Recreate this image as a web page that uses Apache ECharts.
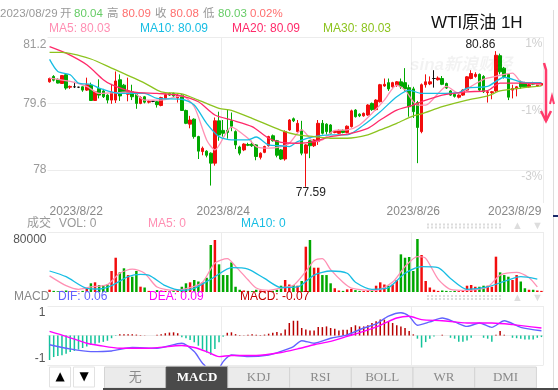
<!DOCTYPE html>
<html><head><meta charset="utf-8">
<script src="https://cdn.jsdelivr.net/npm/echarts@6.0.0/dist/echarts.min.js"></script>
<style>html,body{margin:0;padding:0;background:#fff;overflow:hidden}#chart{width:558px;height:390px}</style>
</head><body><div id="chart"></div>
<script>
// ---------- DATA ----------
const opens = [80.12,80.25,80.18,80.08,80.29,79.99,80.00,79.99,80.00,79.92,
80.04,79.67,79.96,79.90,79.80,79.68,79.68,80.17,80.04,79.82,
79.88,79.82,79.60,79.76,79.63,79.65,79.64,79.55,79.72,79.84,
79.84,79.73,79.80,79.43,79.10,79.22,78.80,78.44,78.45,78.40,
78.16,79.18,78.95,78.95,79.18,78.92,78.55,78.48,78.61,78.62,
78.60,78.30,78.42,78.58,78.82,78.70,78.48,78.26,78.96,79.23,
78.92,78.96,78.40,78.70,78.58,78.68,79.12,79.10,79.08,78.90,
78.88,78.95,78.90,79.04,79.44,79.34,79.30,79.32,79.60,79.45,
79.64,80.02,80.10,80.00,80.03,80.12,80.10,79.98,79.95,79.62,
78.92,80.05,80.07,80.20,80.17,80.20,80.08,79.90,79.82,79.75,
79.80,79.92,80.20,80.25,80.30,80.25,79.86,79.86,79.90,80.75,
80.45,80.30,79.92,79.95,80.10,80.10,80.00,80.10,80.02,80.04];
const closes = [80.20,80.16,80.09,80.27,79.97,80.01,80.00,79.99,79.92,80.05,
79.67,79.88,79.80,79.76,79.68,79.87,80.14,79.78,79.88,79.90,
79.76,79.60,79.74,79.63,79.65,79.65,79.57,79.74,79.81,79.80,
79.78,79.80,79.43,79.12,79.20,78.80,78.45,78.52,78.35,78.16,
79.18,78.84,78.88,78.90,79.05,78.60,78.40,78.62,78.59,78.58,
78.32,78.40,78.56,78.80,78.70,78.35,78.26,78.92,79.20,79.18,
79.12,78.40,78.60,78.58,78.72,79.12,78.88,78.92,78.88,78.93,
78.95,78.90,79.05,79.42,79.28,79.30,79.36,79.56,79.45,79.68,
80.05,80.06,79.95,80.10,80.12,80.00,79.95,79.52,79.40,79.02,
80.05,80.12,80.12,80.20,80.21,80.06,79.97,79.80,79.77,79.80,
79.92,80.24,80.32,80.30,79.92,79.88,79.88,79.88,80.76,80.36,
80.25,79.75,79.96,80.00,80.00,80.00,80.05,80.06,80.06,80.08];
const lows = [80.10,80.13,80.08,80.07,79.93,79.95,79.97,79.97,79.88,79.90,
79.66,79.66,79.72,79.73,79.60,79.59,79.61,79.66,79.85,79.65,
79.68,79.47,79.58,79.60,79.60,79.63,79.50,79.53,79.70,79.78,
79.76,79.62,79.42,79.10,79.00,78.75,78.26,78.35,78.30,77.62,
78.10,78.70,78.80,78.75,78.93,78.50,78.35,78.45,78.57,78.55,
78.23,78.25,78.40,78.56,78.68,78.30,78.24,78.22,78.94,79.15,
78.90,78.35,77.59,78.28,78.55,78.60,78.85,78.85,78.85,78.88,
78.86,78.88,78.88,79.02,79.26,79.27,79.28,79.30,79.42,79.43,
79.62,80.00,79.90,79.98,80.00,79.95,79.90,79.28,79.25,78.16,
78.88,79.98,80.04,79.98,80.15,80.04,79.95,79.78,79.74,79.72,
79.78,79.90,80.18,80.22,79.88,79.85,79.62,79.70,79.88,80.30,
80.20,79.68,79.72,79.77,79.95,79.98,79.98,80.04,80.00,80.03];
const highs = [80.22,80.28,80.20,80.28,80.31,80.03,80.12,80.00,80.01,80.22,
80.10,79.90,80.18,79.95,79.82,80.07,80.37,80.30,80.07,80.22,
80.05,79.84,79.77,79.78,79.68,79.66,79.66,79.76,79.84,79.86,
79.86,79.82,79.82,79.45,79.30,79.24,78.82,78.56,78.47,78.42,
79.26,79.40,79.20,79.45,79.38,78.95,78.58,78.64,78.65,78.70,
78.62,78.42,78.58,78.82,78.85,78.72,78.50,78.95,79.22,79.26,
79.20,79.18,78.62,78.72,78.74,79.20,79.20,79.12,79.10,78.95,
78.97,78.97,79.07,79.45,79.46,79.36,79.38,79.58,79.62,79.70,
80.07,80.20,80.20,80.12,80.14,80.20,80.45,80.05,80.00,79.66,
80.08,80.30,80.25,80.40,80.25,80.26,80.10,79.92,79.84,79.82,
79.94,80.26,80.40,80.35,80.32,80.28,79.90,79.90,80.86,80.80,
80.48,80.32,80.05,80.02,80.15,80.12,80.07,80.12,80.08,80.09];
const volumes = [3000,1500,1000,1500,2000,800,600,500,1500,5000,
11600,12900,9300,9300,10000,28000,45700,26200,31600,22600,
20400,28000,7100,6000,1500,1000,2500,2000,1500,1000,
1200,2500,7000,11600,12900,16000,14000,12900,19000,62700,
69300,36900,22600,22600,39500,7000,3000,2000,1500,1200,
3000,2000,1500,2500,1500,3000,8400,16000,10000,9300,
8400,14700,60400,69300,32400,32400,22600,22600,11600,5000,
2000,1500,3500,4000,2500,1500,1500,2000,2500,8400,
12900,10000,8400,9800,16000,50200,45700,46700,28000,70700,
49300,14700,6000,3000,1500,2000,1500,1000,1500,1200,
2500,8400,9300,7000,7000,8400,8400,7000,47100,26200,
22600,20400,16000,22600,14000,5000,3000,3000,2000,1500];
const macdHist = [-1.08,-0.95,-0.90,-0.87,-0.80,-0.73,-0.68,-0.62,-0.55,-0.48,
-0.42,-0.36,-0.32,-0.28,-0.23,-0.12,-0.02,0.05,0.06,0.06,
0.05,0.04,0.02,0.01,0.00,0.00,0.03,0.06,0.10,0.13,
0.14,0.10,-0.08,-0.12,-0.20,-0.30,-0.45,-0.62,-0.75,-0.85,
-0.60,-0.30,-0.05,0.12,0.14,0.06,0.02,0.01,0.03,0.05,
0.03,0.02,0.04,0.08,0.12,0.15,0.10,0.26,0.55,0.65,
0.65,0.33,0.26,0.22,0.22,0.37,0.37,0.40,0.33,0.30,
0.22,0.25,0.25,0.37,0.45,0.40,0.40,0.45,0.55,0.63,
0.70,0.70,0.63,0.55,0.45,0.40,0.33,0.20,0.05,-0.14,
-0.53,-0.29,-0.14,-0.04,0.00,0.03,0.00,-0.10,-0.14,-0.27,
-0.27,-0.22,-0.10,0.00,0.00,-0.10,-0.14,-0.27,0.03,0.20,
0.03,0.00,-0.10,-0.12,-0.14,-0.18,-0.18,-0.18,-0.10,-0.07];
// indicator lines read at sample candles: [candle index, value]
const ma5Pts = [[0,80.21],[5,80.13],[9,80.01],[12,79.84],[17,79.86],[20,79.88],[23,79.68],[27,79.68],[32,79.78],[35,79.52],[38,78.72],[40,78.48],[44,79.03],[48,78.76],[50,78.56],[53,78.52],[56,78.56],[58,78.64],[61,78.96],[64,78.68],[66,78.72],[69,78.95],[72,78.96],[75,79.08],[78,79.36],[81,79.68],[84,80.04],[86,79.92],[89,79.56],[91,79.56],[94,79.84],[96,80.01],[99,79.84],[102,80.01],[105,80.18],[108,80.25],[112,80.33],[114,80.13],[119,80.05]];
const ma10Pts = [[0,80.66],[2,80.37],[5,80.29],[7,80.09],[10,80.06],[12,79.97],[17,79.84],[23,79.84],[26,79.72],[32,79.70],[35,79.56],[38,79.12],[41,78.80],[44,78.72],[48,78.72],[50,78.79],[53,78.60],[56,78.58],[58,78.56],[60,78.68],[64,78.80],[68,78.84],[72,78.84],[76,79.08],[80,79.40],[84,79.76],[87,79.92],[90,79.84],[94,79.84],[99,79.86],[101,79.97],[106,80.01],[110,80.23],[115,80.10],[119,80.10]];
const ma20Pts = [[0,80.97],[4,80.81],[9,80.53],[13,80.17],[15,80.05],[20,79.88],[26,79.84],[31,79.80],[36,79.64],[40,79.32],[44,79.20],[49,79.04],[53,78.76],[56,78.66],[60,78.64],[64,78.68],[68,78.80],[72,78.86],[77,79.00],[80,79.20],[84,79.44],[88,79.56],[90,79.64],[95,79.80],[101,79.88],[106,79.91],[109,80.09],[114,80.09],[119,80.08]];
const ma30Pts = [[0,80.83],[3,80.83],[10,80.67],[15,80.45],[23,80.09],[27,79.88],[32,79.83],[36,79.68],[41,79.48],[44,79.43],[49,79.24],[56,78.95],[60,78.84],[64,78.80],[68,78.76],[72,78.76],[77,78.84],[80,78.96],[84,79.12],[88,79.30],[90,79.35],[95,79.52],[101,79.68],[106,79.78],[109,79.90],[114,79.97],[119,80.02]];
const volMa5Pts = [[0,21500],[4,8400],[7,3600],[10,6700],[14,9800],[17,25000],[20,30600],[23,25000],[26,6700],[30,2200],[34,5800],[37,13000],[40,38600],[43,44400],[45,34200],[48,16300],[50,5300],[53,2200],[56,5300],[59,8900],[62,27500],[64,41700],[66,44400],[68,29800],[71,13000],[73,5300],[79,2200],[83,13300],[86,33800],[89,47100],[91,44900],[94,17200],[97,3600],[101,2200],[106,6700],[109,22600],[113,26200],[116,19000],[118,6700]];
const volMa10Pts = [[0,28000],[4,20400],[9,4900],[12,4000],[15,8400],[19,20400],[22,23500],[24,22600],[28,8400],[32,2200],[35,4900],[40,20400],[44,32400],[48,30600],[52,18100],[56,6000],[60,6700],[64,22600],[68,28000],[72,25000],[74,13000],[78,3600],[82,5800],[86,25000],[90,33800],[94,32400],[97,18100],[101,3600],[106,6700],[110,14200],[114,20400],[118,17200]];
const difPts = [[0,-0.41],[4,-0.56],[10,-0.71],[15,-0.68],[20,-0.53],[26,-0.56],[32,-0.34],[35,-0.71],[37,-1.22],[40,-1.71],[42,-1.15],[44,-0.86],[48,-0.93],[53,-0.86],[56,-0.70],[59,-0.49],[61,-0.23],[64,-0.34],[68,-0.12],[72,0.03],[76,0.33],[79,0.51],[82,0.85],[85,1.00],[87,0.85],[89,0.45],[92,0.60],[95,0.77],[98,0.60],[101,0.40],[104,0.55],[107,0.36],[110,0.65],[114,0.36],[119,0.21]];
const deaPts = [[0,0.18],[4,-0.04],[9,-0.34],[12,-0.44],[17,-0.56],[24,-0.56],[32,-0.44],[35,-0.53],[38,-0.71],[41,-0.93],[44,-0.88],[50,-0.88],[56,-0.75],[60,-0.59],[64,-0.41],[68,-0.26],[72,-0.04],[76,0.18],[80,0.45],[84,0.77],[87,0.85],[90,0.70],[95,0.65],[101,0.55],[107,0.55],[112,0.48],[119,0.33]];
// tick labels
const dateTicks = [[0,'2023/8/22'],[42,'2023/8/24'],[88,'2023/8/26'],[119,'2023/8/29']];
const dateLines = [42, 88];
const priceTicks = [81.2, 79.6, 78];
const pctBase = 80.4;
const volTicks = [80000];
const macdTicks = [1, -1];
const tabNames = ['无','MACD','KDJ','RSI','BOLL','WR','DMI'];
const activeTab = 'MACD';
const headerText = [['2023/08/29','#999'],['开','#999'],['80.04','g'],['高','#999'],['80.09','r'],['收','#999'],['80.08','r'],['低','#999'],['80.03','g'],['0.02%','r']];
const maLegend = [['MA5: 80.03','ma5'],['MA10: 80.09','ma10'],['MA20: 80.09','ma20'],['MA30: 80.03','ma30']];
const volLegend = [['成交','#999'],['VOL: 0','#999'],['MA5: 0','ma5'],['MA10: 0','ma10']];
const macdLegend = [['MACD','#888'],['DIF: 0.06','dif'],['DEA: 0.09','dea'],['MACD: -0.07','macd']];
const titleText = 'WTI原油 1H';

// ---------- STYLE ----------
const C = {up:'#f20d0d', down:'#00a800', g:'#66cc66', r:'#ff6e6e', ma5:'#ff8fb3', ma10:'#17bde3', ma20:'#ff2a6a', ma30:'#8cc31e', dif:'#6262ff', dea:'#ff00ff', macd:'#c40000', histUp:'#b80000', histDown:'#14c39a', grid:'#ececec'};
const FONT = '"Liberation Sans", Arial, "Noto Sans CJK SC", sans-serif';
const col = c => C[c] || c;

const categories = opens.map((_, i) => String(i));
const candleData = opens.map((o, i) => [o, closes[i], lows[i], highs[i]]);
const volData = volumes.map((v, i) => ({value: v, itemStyle: {color: closes[i] >= opens[i] ? C.up : C.down}}));
const histData = macdHist.map(v => ({value: v, itemStyle: {color: v >= 0 ? C.histUp : C.histDown}}));
const near = (arr, v) => arr.find(t => Math.abs(t - v) < 1e-6);

const grids = [
  {left: 47.5, right: 14.5, top: 37, height: 166},
  {left: 47.5, right: 14.5, top: 232, height: 60},
  {left: 47.5, right: 14.5, top: 306, height: 59}
].map(g => Object.assign({outerBoundsMode: 'none', containLabel: false}, g));

const tickIdx = dateTicks.map(d => d[0]);
const xAxes = [0, 1, 2].map(gi => ({
  type: 'category', gridIndex: gi, data: categories, boundaryGap: true,
  axisLine: {show: false}, axisTick: {show: false},
  splitLine: {show: true, interval: (i) => dateLines.includes(i), lineStyle: {color: C.grid, width: 1}},
  axisLabel: gi === 0 ? {
    show: true, interval: (i) => tickIdx.includes(i),
    formatter: (v, i) => { const d = dateTicks.find(t => t[0] === i); return d ? d[1] : ''; },
    color: '#888', fontSize: 12, fontFamily: FONT, margin: 3,
    alignMinLabel: 'left', alignMaxLabel: 'right'
  } : {show: false}
}));

const pushDown = {padding: [15, 0, 0, 0], fontSize: 12, fontFamily: FONT};
const yAxes = [
  {type: 'value', gridIndex: 0, min: 77.2, max: 81.2, interval: 0.8, position: 'left',
   axisLine: {show: false}, axisTick: {show: false}, splitLine: {show: false},
   axisLabel: {color: '#9a9a9a', fontSize: 12, fontFamily: FONT, margin: 1,
     formatter: v => { const m = near(priceTicks, v); if (m === undefined) return ''; return m === priceTicks[0] ? '{t|' + m + '}' : String(m); },
     rich: {t: Object.assign({color: '#9a9a9a'}, pushDown)}}},
  {type: 'value', gridIndex: 0, min: 77.2, max: 81.2, interval: 0.8, position: 'right',
   axisLine: {show: false}, axisTick: {show: false}, splitLine: {show: false},
   axisLabel: {inside: true, color: '#cfcfcf', fontSize: 12, fontFamily: FONT, margin: 1, verticalAlign: 'top', padding: [1, 0, 0, 0],
     formatter: v => { const m = near(priceTicks, v); return m === undefined ? '' : Math.round((m / pctBase - 1) * 100) + '%'; }}},
  {type: 'value', gridIndex: 1, min: 0, max: 80000, interval: 80000, position: 'left',
   axisLine: {show: false}, axisTick: {show: false}, splitLine: {show: false},
   axisLabel: {color: '#555', fontSize: 12, fontFamily: FONT, margin: 1,
     formatter: v => near(volTicks, v) !== undefined ? '{t|' + v + '}' : '',
     rich: {t: Object.assign({color: '#555'}, pushDown)}}},
  {type: 'value', gridIndex: 2, min: -1.3, max: 1.3, interval: 0.1, position: 'left',
   axisLine: {show: false}, axisTick: {show: false}, splitLine: {show: false},
   axisLabel: {color: '#555', fontSize: 12, fontFamily: FONT, margin: 2,
     formatter: v => { const m = near(macdTicks, v); return m === undefined ? '' : String(m); }}}
];

const gridLine = (vals) => ({silent: true, symbol: ['none', 'none'], label: {show: false},
  lineStyle: {color: C.grid, type: 'solid', width: 1}, emphasis: {disabled: true},
  data: vals.map(v => ({yAxis: v})), z: 0});

const line = (name, pts, color, xi, yi, w) => ({
  type: 'line', name, data: pts, xAxisIndex: xi, yAxisIndex: yi, showSymbol: false, symbol: 'none',
  smooth: 0.25, lineStyle: {color, width: w || 1.3}, itemStyle: {color}, silent: true, z: 3
});

const series = [
  {type: 'candlestick', name: 'K', data: candleData, xAxisIndex: 0, yAxisIndex: 0, barWidth: 3,
   itemStyle: {color: C.up, color0: C.down, borderColor: C.up, borderColor0: C.down, borderColorDoji: '#111', borderWidth: 1},
   markLine: gridLine(priceTicks),
   markPoint: {symbol: 'circle', symbolSize: 1, itemStyle: {color: 'rgba(0,0,0,0)'}, silent: true,
     data: [
       {type: 'max', valueDim: 'highest', label: {position: 'left', distance: 0, offset: [0, -6]}},
       {type: 'min', valueDim: 'lowest', label: {position: 'bottom', distance: 0, offset: [5, -1]}}
     ],
     label: {show: true, color: '#222', fontSize: 12, fontFamily: FONT, formatter: p => Number(p.value).toFixed(2)}}},
  line('MA5', ma5Pts, C.ma5, 0, 0),
  line('MA10', ma10Pts, C.ma10, 0, 0),
  line('MA20', ma20Pts, C.ma20, 0, 0),
  line('MA30', ma30Pts, C.ma30, 0, 0),
  {type: 'bar', name: 'VOL', data: volData, xAxisIndex: 1, yAxisIndex: 2, barWidth: '60%', silent: true,
   markLine: gridLine(volTicks)},
  line('VMA5', volMa5Pts, C.ma5, 1, 2),
  line('VMA10', volMa10Pts, C.ma10, 1, 2),
  {type: 'bar', name: 'MACD', data: histData, xAxisIndex: 2, yAxisIndex: 3, barWidth: 1.5, silent: true,
   markLine: gridLine([1.3, 0, -1.3])},
  line('DIF', difPts, C.dif, 2, 3, 1.4),
  line('DEA', deaPts, C.dea, 2, 3, 1.4)
];

// ---------- decorations / texts ----------
const T = (text, x, y, fill, font, extra) => Object.assign({type: 'text', x, y, silent: true, z: 80,
  style: Object.assign({text, fill, font, verticalAlign: 'middle', align: 'left'}, extra || {})});
const graphic = [];
const hdrX = [0, 60, 74, 107, 122, 155, 170, 203, 218, 250];
headerText.forEach((h, i) => graphic.push(T(h[0], hdrX[i], 14, col(h[1]), '11.5px ' + FONT)));
const maX = [49, 140, 232, 323];
maLegend.forEach((h, i) => graphic.push(T(h[0], maX[i], 29, col(h[1]), '12px ' + FONT)));
graphic.push(T(titleText, 431, 23, '#111', '17px ' + FONT));
const volX = [27, 59, 148, 241];
volLegend.forEach((h, i) => graphic.push(T(h[0], volX[i], 224, col(h[1]), '12px ' + FONT)));
const macdX = [14, 58, 149, 240];
macdLegend.forEach((h, i) => graphic.push(T(h[0], macdX[i], 297, col(h[1]), '12px ' + FONT)));
// watermark
graphic.push(T('sina新浪财经', 410, 65, 'rgba(0,0,0,0.05)', 'italic bold 17px ' + FONT));
// dotted scroll indicators + faint arrows
[[224.5, 227.5], [296, 299]].forEach(ys => {
  ys.forEach(y => graphic.push({type: 'line', silent: true, z: 50, shape: {x1: 427, y1: y, x2: 503, y2: y}, style: {stroke: '#dcdcdc', lineWidth: 2, lineDash: [2, 2]}}));
  graphic.push(T('▲', 512, (ys[0] + ys[1]) / 2, '#ddd', '11px ' + FONT));
  graphic.push(T('▼', 532, (ys[0] + ys[1]) / 2, '#ddd', '11px ' + FONT));
});
// right edge
graphic.push({type: 'line', silent: true, z: 50, shape: {x1: 553.5, y1: 10, x2: 553.5, y2: 390}, style: {stroke: '#dddddd', lineWidth: 1}});
graphic.push({type: 'rect', silent: true, z: 50, shape: {x: 553, y: 215, width: 5, height: 2}, style: {fill: '#1a2a6a'}});
graphic.push({type: 'polyline', silent: true, z: 50, shape: {points: [[544, 63], [546, 70], [546, 121]]}, style: {stroke: '#ff3b6b', lineWidth: 2.5, fill: null}});
graphic.push({type: 'polyline', silent: true, z: 50, shape: {points: [[541, 111], [546, 121], [551, 111]]}, style: {stroke: '#ff3b6b', lineWidth: 2.5, fill: null}});
graphic.push({type: 'polyline', silent: true, z: 50, shape: {points: [[550, 104], [552, 96], [554, 104]]}, style: {stroke: '#ff3b6b', lineWidth: 2, fill: null}});
// bottom buttons
[[49.5, '▲'], [73.5, '▼']].forEach(b => {
  graphic.push({type: 'rect', silent: true, z: 60, shape: {x: b[0], y: 367, width: 21, height: 20}, style: {fill: '#fff', stroke: '#e2e2e2', lineWidth: 1}});
  graphic.push(T(b[1], b[0] + 10.5, 377, '#000', '12px "DejaVu Sans", ' + FONT, {align: 'center'}));
});
const tabX0 = 104.5, tabW = 61.7;
tabNames.forEach((n, i) => {
  const act = n === activeTab;
  graphic.push({type: 'rect', silent: true, z: 60, shape: {x: tabX0 + i * tabW, y: 367, width: tabW, height: 21}, style: {fill: act ? '#4a4a4a' : '#ebebeb', stroke: act ? '#4a4a4a' : '#d4d4d4', lineWidth: 1}});
  graphic.push(T(n, tabX0 + i * tabW + tabW / 2, 377.5, act ? '#fff' : '#8a8a8a', (act ? 'bold ' : '') + '13px "Liberation Serif", "Noto Sans CJK SC", serif', {align: 'center'}));
});
graphic.push({type: 'rect', silent: true, z: 60, shape: {x: 103, y: 388, width: 455, height: 2}, style: {fill: '#4a4a4a'}});

const chart = echarts.init(document.getElementById('chart'), null, {renderer: 'canvas'});
chart.setOption({
  animation: false, backgroundColor: '#fff',
  textStyle: {fontFamily: FONT},
  grid: grids, xAxis: xAxes, yAxis: yAxes, series, graphic
});
</script></body></html>
